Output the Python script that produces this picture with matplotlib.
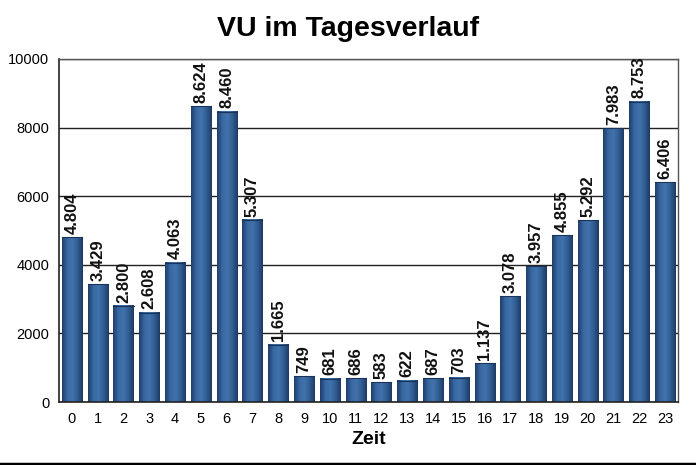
import matplotlib
matplotlib.use("Agg")
import matplotlib.pyplot as plt
import numpy as np
from matplotlib.colors import LinearSegmentedColormap

hours = list(range(24))
values = [4804, 3429, 2800, 2608, 4063, 8624, 8460, 5307, 1665, 749, 681, 686,
          583, 622, 687, 703, 1137, 3078, 3957, 4855, 5292, 7983, 8753, 6406]
labels = ["4.804", "3.429", "2.800", "2.608", "4.063", "8.624", "8.460", "5.307",
          "1.665", "749", "681", "686", "583", "622", "687", "703", "1.137",
          "3.078", "3.957", "4.855", "5.292", "7.983", "8.753", "6.406"]
yticks = [0, 2000, 4000, 6000, 8000, 10000]

plt.rcParams['font.family'] = ['Liberation Sans', 'DejaVu Sans']

fig = plt.figure(figsize=(6.96, 4.65), dpi=100)
ax = fig.add_axes([59/696, 1-402/465, (678-59)/696, (402-59)/465])

width = 0.78
cmap = LinearSegmentedColormap.from_list(
    "bar", ["#1f3e69", "#3868a2", "#4273ab", "#305d93", "#1e3a63"])
grad = np.linspace(0, 1, 64).reshape(1, -1)

bars = ax.bar(hours, values, width=width, color="#2f5b90", zorder=2)
for b in bars:
    x0, y0 = b.get_x(), b.get_y()
    w, h = b.get_width(), b.get_height()
    b.set_facecolor("none")
    ax.imshow(grad, cmap=cmap, aspect="auto", extent=[x0, x0 + w, y0, y0 + h],
              zorder=2, interpolation="bilinear")
    ax.plot([x0, x0 + w], [h, h], color="#1a3358", lw=0.8, zorder=3)

for x, v, t in zip(hours, values, labels):
    ax.text(x, v + 100, t, rotation=90, ha="center", va="bottom",
            fontsize=12, fontweight="bold", color="#111111", zorder=4)

ax.set_xlim(-0.5, 23.5)
ax.set_ylim(0, 10000)
ax.set_yticks(yticks)
ax.set_yticklabels([str(v) for v in yticks], fontsize=10.5)
ax.set_xticks(hours)
ax.set_xticklabels([str(h) for h in hours], fontsize=10.5)
ax.tick_params(axis="both", length=0, pad=7)
ax.yaxis.grid(True, color="#222222", lw=1.0, zorder=1)
ax.set_axisbelow(True)
for s in ["left", "bottom"]:
    ax.spines[s].set_color("#222222")
    ax.spines[s].set_linewidth(1.2)
for s in ["top", "right"]:
    ax.spines[s].set_color("#555555")
    ax.spines[s].set_linewidth(1.0)

ax.set_xlabel("Zeit", fontsize=14, fontweight="bold", labelpad=4)
fig.text(0.5, 1 - 29/465, "VU im Tagesverlauf", ha="center", va="center",
         fontsize=20.5, fontweight="bold")

fig.add_artist(plt.Line2D([0, 1], [1.5/465, 1.5/465], color="black", lw=2.5,
                          transform=fig.transFigure))

fig.savefig("out.png", dpi=100)
